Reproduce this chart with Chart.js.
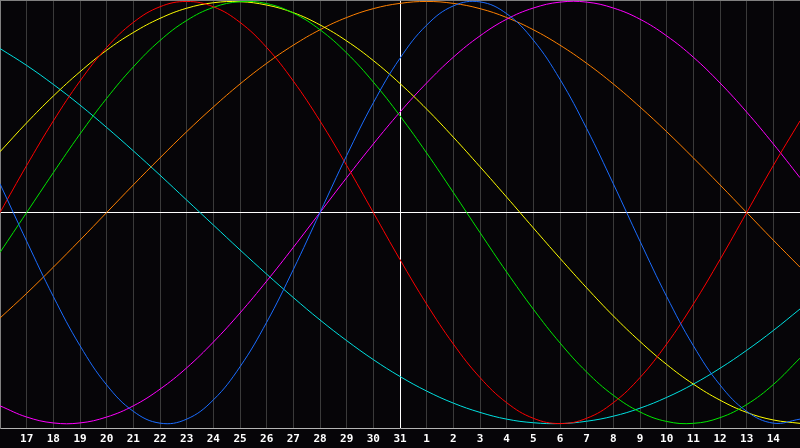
<!DOCTYPE html>
<html>
<head>
<meta charset="utf-8">
<script src="https://cdn.jsdelivr.net/npm/chart.js@4.4.0/dist/chart.umd.min.js"></script>
<style>
  html, body { margin: 0; padding: 0; background: #060508; }
  canvas { display: block; }
</style>
</head>
<body>
<canvas id="myChart" width="800" height="448"></canvas>
<script>
// days shown, first and last sit on the frame edges
const days = [16, 17, 18, 19, 20, 21, 22, 23, 24, 25, 26, 27, 28, 29, 30, 31,
  1, 2, 3, 4, 5, 6, 7, 8, 9, 10, 11, 12, 13, 14, 15];

// values in percent, one per day
const blue = [13.6, -13.6, -39.8, -63.1, -81.7, -94.2, -99.8, -97.9, -88.8, -73.1, -52.0, -27.0, 0, 27.0, 52.0, 73.1,
  88.8, 97.9, 99.8, 94.2, 81.7, 63.1, 39.8, 13.6, -13.6, -39.8, -63.1, -81.7, -94.2, -99.8, -97.9];
const red = [0, 22.3, 43.4, 62.3, 78.2, 90.1, 97.5, 100, 97.5, 90.1, 78.2, 62.3, 43.4, 22.3, 0, -22.3,
  -43.4, -62.3, -78.2, -90.1, -97.5, -100, -97.5, -90.1, -78.2, -62.3, -43.4, -22.3, 0, 22.3, 43.4];
const green = [-18.9, 0, 18.9, 37.2, 54.1, 69.0, 81.5, 91.0, 97.2, 99.9, 99.0, 94.5, 86.6, 75.6, 61.8, 45.8,
  28.2, 9.5, -9.5, -28.2, -45.8, -61.8, -75.6, -86.6, -94.5, -99.0, -99.9, -97.2, -91.0, -81.5, -69.0];
const magenta = [-91.6, -96.9, -99.7, -99.7, -96.9, -91.6, -83.7, -73.6, -61.4, -47.6, -32.5, -16.5, 0, 16.5, 32.5, 47.6,
  61.4, 73.6, 83.7, 91.6, 96.9, 99.7, 99.7, 96.9, 91.6, 83.7, 73.6, 61.4, 47.6, 32.5, 16.5];
const yellow = [28.8, 42.5, 55.2, 66.7, 76.9, 85.3, 92.0, 96.8, 99.4, 99.9, 98.3, 94.7, 88.9, 81.3, 72.0, 61.1,
  49.0, 35.7, 21.7, 7.3, -7.3, -21.7, -35.7, -49.0, -61.1, -72.0, -81.3, -88.9, -94.7, -98.3, -99.9];
const orange = [-50, -38.3, -25.9, -13.1, 0, 13.1, 25.9, 38.3, 50, 60.9, 70.7, 79.3, 86.6, 92.4, 96.6, 99.1,
  100, 99.1, 96.6, 92.4, 86.6, 79.3, 70.7, 60.9, 50, 38.3, 25.9, 13.1, 0, -13.1, -25.9];
const cyan = [77.7, 69.7, 60.7, 50.9, 40.3, 29.2, 17.7, 5.9, -5.9, -17.7, -29.2, -40.3, -50.9, -60.7, -69.7, -77.7,
  -84.6, -90.3, -94.7, -97.9, -99.6, -100, -98.9, -96.5, -92.7, -87.6, -81.3, -73.8, -65.3, -55.9, -45.7];

const TODAY = 15; // index of the white vertical line (31)

function line(values, color) {
  return {
    data: values,
    borderColor: color,
    borderWidth: 1,
    pointRadius: 0,
    tension: 0.4,
    fill: false
  };
}

const ctx = document.getElementById('myChart').getContext('2d');
const myChart = new Chart(ctx, {
  type: 'line',
  data: {
    labels: days,
    datasets: [
      line(blue, '#1a6cff'),
      line(red, '#ff0000'),
      line(green, '#00e800'),
      line(yellow, '#ffff00'),
      line(magenta, '#ff00ff'),
      line(orange, '#ff8000'),
      line(cyan, '#00e0e0')
    ]
  },
  options: {
    responsive: false,
    animation: false,
    devicePixelRatio: 1,
    layout: { padding: 0 },
    plugins: {
      legend: { display: false },
      tooltip: { enabled: false }
    },
    scales: {
      x: {
        offset: false,
        afterFit(scale) {
          scale.height = 20;
          scale.paddingLeft = 0;
          scale.paddingRight = 0;
        },
        border: { color: '#b4b4b4', width: 1 },
        grid: {
          drawTicks: false,
          color(c) {
            if (c.index === TODAY) return '#ffffff';
            if (c.index === 0 || c.index === days.length - 1) return '#808080';
            return '#3a3a3a';
          }
        },
        ticks: {
          autoSkip: false,
          maxRotation: 0,
          padding: 5,
          color: '#ffffff',
          font: { family: 'DejaVu Sans Mono', size: 11, weight: 'bold' },
          callback(val, i) {
            if (i === 0 || i === days.length - 1) return '';
            return String(days[i]);
          }
        }
      },
      y: {
        min: -102.1,
        max: 100.7,
        afterFit(scale) {
          scale.width = 0;
          scale.paddingTop = 0;
          scale.paddingBottom = 0;
        },
        afterBuildTicks(scale) {
          scale.ticks = [{ value: -102.1 }, { value: 0 }, { value: 100.7 }];
        },
        border: { color: '#808080', width: 1 },
        grid: {
          drawTicks: false,
          color(c) {
            if (c.index === 1) return '#ffffff';
            if (c.index === 2) return '#808080';
            return 'rgba(0,0,0,0)';
          }
        },
        ticks: { display: false }
      }
    }
  },
  plugins: [{
    id: 'bg',
    beforeDraw(chart) {
      const c = chart.ctx;
      c.save();
      c.fillStyle = '#060508';
      c.fillRect(0, 0, chart.width, chart.height);
      c.restore();
    }
  }]
});
</script>
</body>
</html>
